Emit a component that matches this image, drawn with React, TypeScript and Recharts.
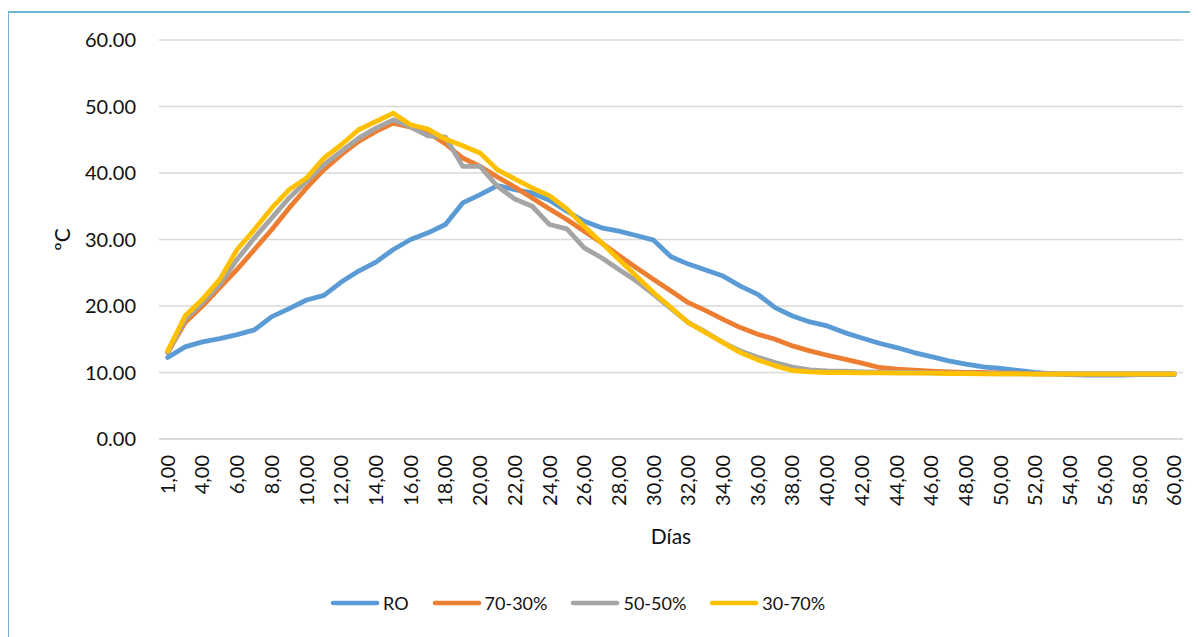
import { LineChart, Line, XAxis, YAxis, CartesianGrid, Legend } from 'recharts'

// días: 59 categories, labels every other one
const days = [1, 2, ...Array.from({ length: 57 }, (_, k) => k + 4)]

const ro = [
  12.25, 13.85, 14.6, 15.1, 15.7, 16.4, 18.4, 19.6, 20.9, 21.6,
  23.6, 25.25, 26.6, 28.5, 30.0, 31.0, 32.25, 35.5, 36.75, 38.1,
  37.5, 37.0, 35.9, 34.25, 32.75, 31.75, 31.25, 30.6, 29.9, 27.4,
  26.3, 25.4, 24.5, 23.0, 21.75, 19.75, 18.5, 17.6, 17.0, 16.0,
  15.2, 14.4, 13.75, 13.0, 12.4, 11.75, 11.25, 10.85, 10.6, 10.3,
  10.0, 9.8, 9.7, 9.6, 9.6, 9.6, 9.7, 9.7, 9.7,
]

const mix7030 = [
  13.0, 17.5, 20.0, 22.75, 25.5, 28.5, 31.5, 34.75, 37.75, 40.5,
  42.75, 44.75, 46.25, 47.5, 46.9, 46.1, 44.4, 42.25, 41.0, 39.4,
  37.9, 36.25, 34.6, 33.0, 31.25, 29.5, 27.6, 25.75, 24.0, 22.25,
  20.5, 19.3, 18.0, 16.75, 15.75, 15.0, 14.0, 13.25, 12.6, 12.0,
  11.4, 10.75, 10.5, 10.35, 10.2, 10.1, 10.0, 10.0, 9.9, 9.9,
  9.8, 9.8, 9.8, 9.8, 9.8, 9.8, 9.8, 9.8, 9.8,
]

const mix5050 = [
  13.0, 18.0, 20.5, 23.25, 27.0, 30.25, 33.25, 36.25, 38.75, 41.25,
  43.25, 45.25, 46.75, 48.0, 46.9, 45.6, 45.4, 41.0, 41.0, 38.0,
  36.1, 35.0, 32.25, 31.6, 28.75, 27.25, 25.5, 23.75, 21.75, 19.6,
  17.5, 16.1, 14.5, 13.25, 12.3, 11.5, 10.8, 10.4, 10.25, 10.2,
  10.1, 10.05, 10.0, 10.0, 9.95, 9.9, 9.9, 9.85, 9.8, 9.8,
  9.8, 9.8, 9.8, 9.8, 9.8, 9.8, 9.8, 9.8, 9.8,
]

const mix3070 = [
  13.25, 18.5, 21.0, 24.0, 28.5, 31.5, 34.75, 37.5, 39.25, 42.25,
  44.25, 46.5, 47.75, 49.0, 47.25, 46.6, 45.1, 44.1, 43.0, 40.5,
  39.1, 37.75, 36.6, 34.6, 32.0, 29.5, 27.0, 24.5, 22.0, 19.75,
  17.5, 16.0, 14.5, 13.0, 11.9, 11.0, 10.3, 10.1, 10.0, 10.0,
  9.95, 9.95, 9.9, 9.9, 9.9, 9.85, 9.85, 9.8, 9.8, 9.8,
  9.75, 9.75, 9.75, 9.75, 9.75, 9.75, 9.75, 9.75, 9.75,
]

const yTicks = [0, 10, 20, 30, 40, 50, 60]

const series = [
  { key: 'ro', name: 'RO', color: '#5B9BD5' },
  { key: 'm7030', name: '70-30%', color: '#ED7D31' },
  { key: 'm5050', name: '50-50%', color: '#A5A5A5' },
  { key: 'm3070', name: '30-70%', color: '#FFC000' },
]

const data = days.map((d, i) => ({
  day: d,
  ro: ro[i],
  m7030: mix7030[i],
  m5050: mix5050[i],
  m3070: mix3070[i],
}))

const FONT = 'Lato, "Open Sans", sans-serif'

const DayTick = (props: any) => {
  const { x, y, payload } = props
  const label = Number(payload.value).toFixed(2).replace('.', ',')
  return (
    <text
      x={x}
      y={y}
      transform={`rotate(-90, ${x}, ${y})`}
      textAnchor="end"
      dy="0.35em"
      fontSize={20}
      fill="#111"
      fontFamily={FONT}
    >
      {label}
    </text>
  )
}

const LegendBox = () => (
  <div style={{ display: 'flex', alignItems: 'center', paddingLeft: 322, fontFamily: FONT, fontSize: 18, color: '#111' }}>
    {series.map((s) => (
      <div key={s.key} style={{ display: 'flex', alignItems: 'center', marginRight: 23 }}>
        <svg width={50} height={10} style={{ marginRight: 3 }}>
          <line x1={3} y1={5} x2={47} y2={5} stroke={s.color} strokeWidth={4.5} strokeLinecap="round" />
        </svg>
        <span>{s.name}</span>
      </div>
    ))}
  </div>
)

export default function App() {
  return (
    <div style={{ position: 'relative', width: 1190, height: 629 }}>
      <div
        style={{
          position: 'absolute',
          left: -1,
          top: 3,
          width: 1200,
          height: 640,
          borderTop: '2px solid #6DB6D2',
          borderLeft: '2px solid #6DB6D2',
        }}
      />
      <div style={{ position: 'absolute', left: 0, top: 4 }}>
        <LineChart
          width={1190}
          height={625}
          data={data}
          margin={{ top: 28, right: 15, left: 0, bottom: 88 }}
          style={{ fontFamily: FONT }}
        >
          <CartesianGrid vertical={false} stroke="#D9D9D9" strokeWidth={1.3} />
          <XAxis
            dataKey="day"
            interval={1}
            height={110}
            padding={{ left: 8.7, right: 8.7 }}
            axisLine={{ stroke: '#D9D9D9', strokeWidth: 1.3 }}
            tickLine={false}
            tickMargin={10}
            tick={<DayTick />}
            label={{ value: 'Días', position: 'insideBottom', offset: 5, fontSize: 21, fill: '#111', fontFamily: FONT }}
          />
          <YAxis
            domain={[0, 60]}
            ticks={yTicks}
            width={151}
            axisLine={false}
            tickLine={false}
            tickMargin={17}
            tick={{ fontSize: 20, fill: '#111', fontFamily: FONT }}
            tickFormatter={(v: number) => v.toFixed(2)}
            label={{ value: 'ºC', angle: -90, position: 'center', dx: -21, fontSize: 21, fill: '#111', fontFamily: FONT }}
          />
          {series.map((s) => (
            <Line
              key={s.key}
              type="linear"
              dataKey={s.key}
              name={s.name}
              stroke={s.color}
              strokeWidth={4.8}
              strokeLinejoin="round"
              strokeLinecap="round"
              dot={false}
              activeDot={false}
              isAnimationActive={false}
            />
          ))}
          <Legend
            layout="horizontal"
            verticalAlign="middle"
            align="center"
            content={<LegendBox />}
            wrapperStyle={{ top: 580, left: 0, width: 1190 }}
          />
        </LineChart>
      </div>
    </div>
  )
}
